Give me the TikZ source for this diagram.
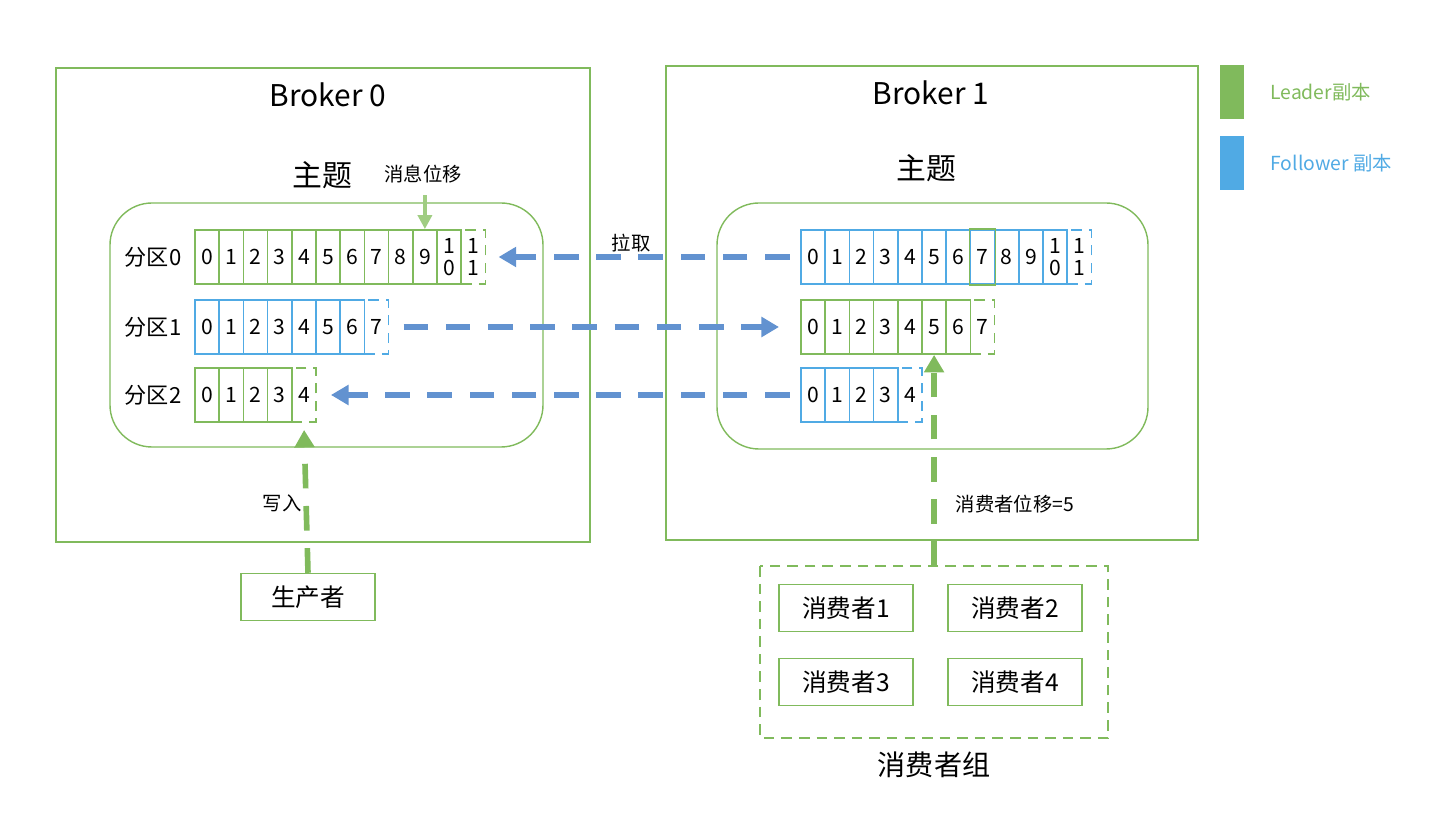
\documentclass[tikz,border=0pt]{standalone}
\usepackage{fontspec}
\setmainfont{Noto Sans CJK SC}
\usepackage{tikz}
\usetikzlibrary{arrows.meta,positioning,calc}
\definecolor{lead}{RGB}{128,186,92}
\definecolor{foll}{RGB}{80,170,228}
\definecolor{pullblue}{RGB}{98,146,208}
\definecolor{offs}{RGB}{160,205,130}
\begin{document}
\begin{tikzpicture}[x=0.01cm, y=-0.01cm]
	\tikzstyle{box} = [draw=lead, line width=0.4pt]
	\tikzstyle{cell} = [rectangle, minimum width=0.242cm, minimum height=0.54cm, inner sep=0pt, line width=0.5pt, font=\fontsize{6}{6}\selectfont]
	\tikzstyle{pull} = [pullblue, line width=1.6pt, dash pattern=on 7pt off 5pt, -{Triangle[length=5pt,width=5.5pt]}]
	\tikzstyle{push} = [lead, line width=1.6pt, dash pattern=on 7pt off 5pt, -{Triangle[length=5pt,width=5.5pt]}]
	\tikzstyle{cons} = [box, rectangle, minimum width=1.34cm, minimum height=0.47cm, font=\fontsize{7}{7}\selectfont]
	\useasboundingbox (0,0) rectangle (1454,834);

	% brokers
	\draw[box] (56,68) rectangle (590,542);
	\draw[box] (666,66) rectangle (1198,540);
	\node[font=\fontsize{8.5}{8.5}\selectfont] (t0) at (328,95) {Broker 0};
	\node[font=\fontsize{8.5}{8.5}\selectfont] (t1) at (931,93) {Broker 1};
	\node[font=\fontsize{8.5}{8.5}\selectfont] (s0) at (322,175) {主题};
	\node[font=\fontsize{8.5}{8.5}\selectfont] (s1) at (926,168) {主题};
	\draw[box, rounded corners=0.42cm] (110,203) rectangle (543,447);
	\draw[box, rounded corners=0.42cm] (717,203) rectangle (1148,449);

	% partitions
	\foreach \r/\y/\k in {0/257/0,1/327/1,2/395/2}
		\node[font=\fontsize{6.3}{6.3}\selectfont] (p\r) at (153,\y) {分区\k};
	\foreach \r/\x/\y/\n/\c in {a0/195/257/11/lead, a1/195/327/7/foll, a2/195/395/4/lead,
		b0/801/257/11/foll, b1/801/327/7/lead, b2/801/395/4/foll} {
		\foreach \i in {0,...,\n} {
			\pgfmathtruncatemacro\j{\i-10}
			\ifnum\i=\n
				\node[cell, draw=\c, densely dashed] (\r c\i) at (\x+24.2*\i+12.1,\y)
					{\ifnum\i>9 \shortstack{1\\[-1pt]\j}\else\i\fi};
			\else
				\node[cell, draw=\c] (\r c\i) at (\x+24.2*\i+12.1,\y)
					{\ifnum\i>9 \shortstack{1\\[-1pt]\j}\else\i\fi};
			\fi
		}
	}
	\draw[lead, line width=0.5pt] (b0c7.north west) rectangle (b0c7.south east);

	% offset
	\node[font=\fontsize{5.5}{5.5}\selectfont] (msg) at (423,174) {消息位移};
	\draw[offs, line width=1pt, -{Triangle[length=4pt,width=4pt]}] (msg.south -| a0c9) -- (a0c9.north);

	% replication
	\node[font=\fontsize{5.5}{5.5}\selectfont] (fetch) at (631,243) {拉取};
	\draw[pull, shorten <=3pt, shorten >=3.5pt] (b0c0.west) -- (a0c11.east);
	\draw[pull, shorten <=4pt, shorten >=6pt] (a1c7.east) -- (b1c0.west);
	\draw[pull, shorten <=3pt, shorten >=4pt] (b2c0.west) -- (a2c4.east);

	% producer
	\node[cons] (prod) at (308,597) {生产者};
	\node[font=\fontsize{5.5}{5.5}\selectfont] (write) at (282,503) {写入};
	\draw[push, shorten >=2pt] (prod.north) -- (a2c4.south);

	% consumer group
	\draw[box, densely dashed] (760,566) rectangle (1108,738);
	\coordinate (grp) at (933,566);
	\node[cons] (c1) at (846,608) {消费者1};
	\node[cons] (c2) at (1015,608) {消费者2};
	\node[cons] (c3) at (846,682) {消费者3};
	\node[cons] (c4) at (1015,682) {消费者4};
	\node[font=\fontsize{8}{8}\selectfont] (gname) at (934,765) {消费者组};
	\node[font=\fontsize{5.5}{5.5}\selectfont] (cpos) at (1015,504) {消费者位移=5};
	\draw[push] (grp -| b1c5) -- (b1c5.south);

	% legend
	\node[rectangle, draw=lead, fill=lead, minimum width=0.23cm, minimum height=0.52cm] (lg) at (1232,92) {};
	\node[rectangle, draw=foll, fill=foll, minimum width=0.23cm, minimum height=0.52cm] (lf) at (1232,163) {};
	\node[lead, anchor=west, font=\fontsize{5.5}{5.5}\selectfont] (lgt) at (1258,92) {Leader副本};
	\node[foll, anchor=west, font=\fontsize{5.5}{5.5}\selectfont] (lft) at (1258,163) {Follower 副本};
\end{tikzpicture}
\end{document}
